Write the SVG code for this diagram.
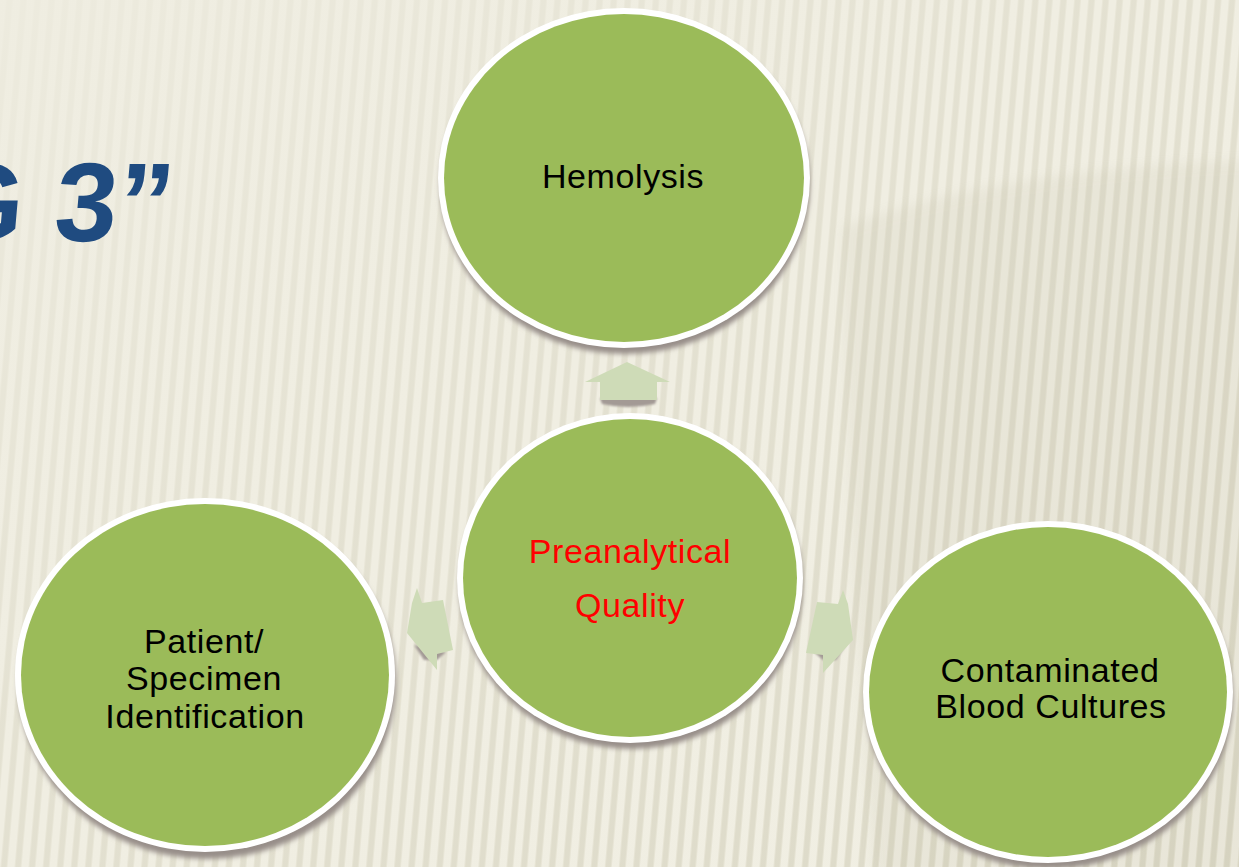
<svg xmlns="http://www.w3.org/2000/svg" width="1239" height="867" viewBox="0 0 1239 867">
  <defs>
    <style>
      .ring { fill: #ffffff; }
      .disc { fill: #9bbb59; }
      .shadow { fill: #978e89; filter: url(#soft); }
      .label { font-family: "Liberation Sans", Arial, sans-serif; font-size: 34px; fill: #000000; text-anchor: middle; letter-spacing: 0.6px; }
      .center-label { fill: #ff0000; }
      .arrow { fill: #cedbb7; }
      .arrow-shadow { fill: #a39a95; filter: url(#soft1); }
      .title { font-family: "Liberation Sans", Arial, sans-serif; font-weight: bold; font-size: 112px; fill: #1f4b80; }
    </style>
    <filter id="soft" x="-10%" y="-10%" width="120%" height="120%">
      <feGaussianBlur stdDeviation="2.5"/>
    </filter>
    <filter id="soft1" x="-20%" y="-20%" width="140%" height="140%">
      <feGaussianBlur stdDeviation="1.2"/>
    </filter>
    <filter id="wide" x="-20%" y="-20%" width="140%" height="140%">
      <feGaussianBlur stdDeviation="6"/>
    </filter>
    <pattern id="stripes" width="14" height="400" patternUnits="userSpaceOnUse" patternTransform="rotate(5)">
      <rect x="0" y="0" width="14" height="400" fill="#f1efe3"/>
      <rect x="7" y="0" width="5" height="400" fill="#d8d5c2"/>
      <rect x="6" y="0" width="1" height="400" fill="#e3e0cf"/>
      <rect x="12" y="0" width="1" height="400" fill="#e3e0cf"/>
    </pattern>
    <linearGradient id="fade" x1="0" y1="0" x2="1" y2="1">
      <stop offset="0" stop-color="#efede1" stop-opacity="0.92"/>
      <stop offset="0.45" stop-color="#efede1" stop-opacity="0.5"/>
      <stop offset="1" stop-color="#efede1" stop-opacity="0.15"/>
    </linearGradient>
  </defs>

  <g id="background">
    <rect x="0" y="0" width="1239" height="867" fill="#efede1"/>
    <rect x="0" y="0" width="1239" height="867" fill="url(#stripes)"/>
    <rect x="0" y="0" width="1239" height="867" fill="url(#fade)"/>
    <path d="M 843,227 Q 1000,168 1260,160 L 1260,880 L 875,880 Q 845,520 843,227 Z" fill="#a8a386" opacity="0.1" filter="url(#wide)"/>
  </g>

  <g id="title" transform="translate(0,241) skewX(-5)">
    <text class="title" x="-66" y="0">G 3”</text>
  </g>

  <g id="connectors">
    <g id="arrow-up">
      <path class="arrow-shadow" d="M 600,398 L 657,398 L 655,404 Q 628,410 602,404 Z"/>
      <polygon class="arrow" points="627,362 670,382 657,382 657,400 600,400 600,382 585,382"/>
    </g>
    <g id="arrow-left">
      <polygon class="arrow-shadow" points="414,645 446,652 437,660 424,660"/>
      <polygon class="arrow" points="417,588 422,603 443,600 453,650 437,654 437,670 407,633 412,603"/>
    </g>
    <g id="arrow-right">
      <polygon class="arrow-shadow" points="846,645 814,652 823,660 836,660"/>
      <polygon class="arrow" points="843,590 838,604 817,602 806,653 823,655 823,673 853,640 848,604"/>
    </g>
  </g>

  <g id="node-hemolysis">
    <ellipse class="shadow" cx="625" cy="184" rx="185" ry="170"/>
    <ellipse class="ring" cx="624" cy="178" rx="186" ry="170"/>
    <ellipse class="disc" cx="624" cy="178" rx="180" ry="164"/>
    <text class="label" x="623" y="188">Hemolysis</text>
  </g>

  <g id="node-preanalytical">
    <ellipse class="shadow" cx="631" cy="584" rx="172" ry="165"/>
    <ellipse class="ring" cx="630" cy="578" rx="173" ry="165"/>
    <ellipse class="disc" cx="630" cy="578" rx="167" ry="159"/>
    <text class="label center-label" x="630" y="563">Preanalytical</text>
    <text class="label center-label" x="630" y="617">Quality</text>
  </g>

  <g id="node-patient">
    <ellipse class="shadow" cx="207" cy="682" rx="189" ry="177"/>
    <ellipse class="ring" cx="205" cy="675" rx="190" ry="177"/>
    <ellipse class="disc" cx="205" cy="675" rx="184" ry="171"/>
    <text class="label" x="204" y="653">Patient/</text>
    <text class="label" x="204" y="690">Specimen</text>
    <text class="label" x="205" y="728">Identification</text>
  </g>

  <g id="node-blood-cultures">
    <ellipse class="shadow" cx="1049" cy="698" rx="184" ry="171"/>
    <ellipse class="ring" cx="1048" cy="692" rx="185" ry="171"/>
    <ellipse class="disc" cx="1048" cy="692" rx="179" ry="165"/>
    <text class="label" x="1050" y="682">Contaminated</text>
    <text class="label" x="1051" y="718">Blood Cultures</text>
  </g>
</svg>
